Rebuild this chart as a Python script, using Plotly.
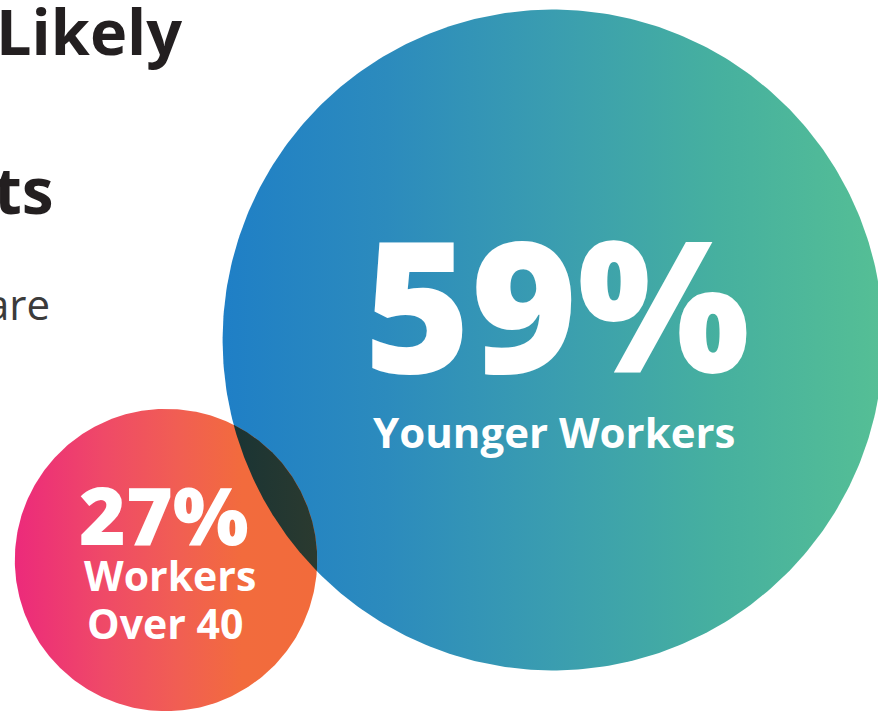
import numpy as np
import plotly.graph_objects as go

# ---- data ----
values = [59, 27]
value_labels = ["59%", "27%"]
group_labels = ["Younger Workers", "Workers<br>Over 40"]
title_bits = ["Likely", "ts"]
body_bits = ["are"]

W, H = 878, 711
PX_PER_PCT = 5.6
centers = [(553, 340), (166, 560)]
radii = [v * PX_PER_PCT for v in values]

big_scale = [[0.0, "#1f7fc6"], [0.25, "#2c8bbd"], [0.5, "#3a9db0"],
             [0.75, "#46b09f"], [1.0, "#55bf95"]]
small_scale = [[0.0, "#ec2a7b"], [0.3, "#ef4a67"], [0.55, "#f15f52"],
               [0.75, "#f26b3d"], [1.0, "#f26b3b"]]
lens_scale = [[0.0, "#1a3434"], [1.0, "#2b3a2f"]]

fig = go.Figure()


def circle_pts(c, r, a0=0, a1=2 * np.pi, n=400):
    t = np.linspace(a0, a1, n)
    return c[0] + r * np.cos(t), c[1] + r * np.sin(t)


for (c, r, cs) in [(centers[0], radii[0], big_scale), (centers[1], radii[1], small_scale)]:
    x, y = circle_pts(c, r)
    fig.add_trace(go.Scatter(x=x, y=y, mode="lines", line=dict(width=0),
                             fill="toself",
                             fillgradient=dict(type="horizontal", colorscale=cs),
                             hoverinfo="skip", showlegend=False))

# overlap lens
(c1, r1), (c2, r2) = (centers[0], radii[0]), (centers[1], radii[1])
dx, dy = c1[0] - c2[0], c1[1] - c2[1]
d = np.hypot(dx, dy)
th2 = np.arctan2(dy, dx)
th1 = th2 + np.pi
a2 = np.arccos((d * d + r2 * r2 - r1 * r1) / (2 * d * r2))
a1 = np.arccos((d * d + r1 * r1 - r2 * r2) / (2 * d * r1))
xa, ya = circle_pts(c2, r2, th2 - a2, th2 + a2, 200)
xb, yb = circle_pts(c1, r1, th1 - a1, th1 + a1, 200)
fig.add_trace(go.Scatter(x=np.concatenate([xa, xb]), y=np.concatenate([ya, yb]),
                         mode="lines", line=dict(width=0), fill="toself",
                         fillgradient=dict(type="horizontal", colorscale=lens_scale),
                         hoverinfo="skip", showlegend=False))

FONT = "Open Sans"
small_lines = group_labels[1].split("<br>")
ann = []
# big circle text
ann.append(dict(x=557, y=301.5, text=value_labels[0], xanchor="center",
                font=dict(family=FONT, size=182, color="white", weight=800)))
ann.append(dict(x=554, y=431, text=group_labels[0], xanchor="center",
                font=dict(family=FONT, size=42, color="white", weight=700)))
# small circle text
ann.append(dict(x=164, y=513, text=value_labels[1], xanchor="center",
                font=dict(family=FONT, size=80, color="white", weight=800)))
ann.append(dict(x=169.5, y=574.5, text=small_lines[0], xanchor="center",
                font=dict(family=FONT, size=41, color="white", weight=700)))
ann.append(dict(x=165, y=623, text=small_lines[1], xanchor="center",
                font=dict(family=FONT, size=41, color="white", weight=700)))
# cropped headline text
ann.append(dict(x=184, y=30, text=title_bits[0], xanchor="right",
                font=dict(family=FONT, size=63, color="#231f20", weight=700)))
ann.append(dict(x=56, y=189, text=title_bits[1], xanchor="right",
                font=dict(family=FONT, size=64, color="#231f20", weight=700)))
ann.append(dict(x=52, y=303, text=body_bits[0], xanchor="right",
                font=dict(family=FONT, size=42, color="#3b3b3b", weight=400)))

for a in ann:
    a.update(showarrow=False, yanchor="middle", xref="x", yref="y")

fig.update_layout(
    width=W, height=H,
    margin=dict(l=0, r=0, t=0, b=0),
    paper_bgcolor="white", plot_bgcolor="white",
    xaxis=dict(range=[0, W], visible=False, fixedrange=True),
    yaxis=dict(range=[H, 0], visible=False, fixedrange=True),
    showlegend=False,
    hovermode=False,
    annotations=ann,
)

fig.write_html("out.html",
               config={"displayModeBar": False, "staticPlot": True},
               post_script="document.body.style.margin='0';document.body.style.overflow='hidden';")
